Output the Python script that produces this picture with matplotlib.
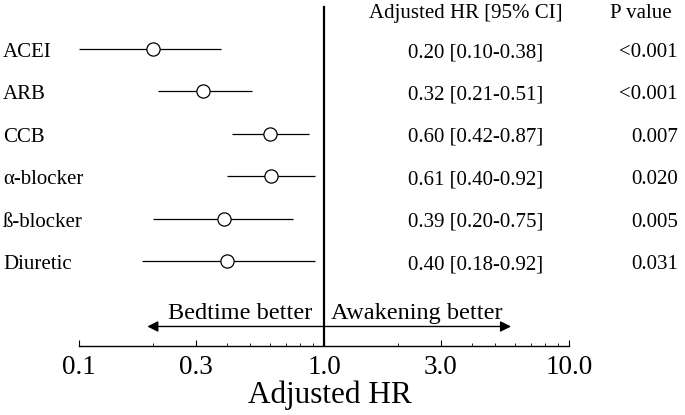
import numpy as np
import matplotlib.pyplot as plt

plt.rcParams['font.family'] = ['Liberation Serif', 'DejaVu Serif']

drugs = ['ACEI', 'ARB', 'CCB', 'α-blocker', 'ß-blocker', 'Diuretic']
hr = [0.20, 0.32, 0.60, 0.61, 0.39, 0.40]
lo = [0.10, 0.21, 0.42, 0.40, 0.20, 0.18]
hi = [0.38, 0.51, 0.87, 0.92, 0.75, 0.92]
pvals = ['<0.001', '<0.001', '0.007', '0.020', '0.005', '0.031']

tick_vals = [0.1, 0.3, 1.0, 3.0, 10.0]
tick_labels = ['0.1', '0.3', '1.0', '3.0', '10.0']
minor_vals = [0.2, 0.4, 0.5, 0.6, 0.7, 0.8, 0.9, 2, 4, 5, 6, 7, 8, 9]

fig = plt.figure(figsize=(6.85, 4.15), dpi=100)
ax = fig.add_axes([79 / 685, 69 / 415, 490 / 685, 346 / 415])
ax.set_xscale('log')
ax.set_xlim(0.1, 10)
ax.set_ylim(7.0, -1.156)

y = np.arange(len(drugs))
ax.hlines(y, lo, hi, color='black', lw=0.9)
ax.plot(hr, y, 'o', ms=9.5, mfc='white', mec='black', mew=0.9, zorder=3)

ax.axvline(1.0, ymin=0, ymax=0.98, color='black', lw=1.6)

# direction arrows
ax.annotate('', xy=(0.19, 6.54), xytext=(1.0, 6.54),
            arrowprops=dict(arrowstyle='-|>', color='black', lw=1.0,
                            mutation_scale=16, shrinkA=0, shrinkB=0))
ax.annotate('', xy=(5.8, 6.54), xytext=(1.0, 6.54),
            arrowprops=dict(arrowstyle='-|>', color='black', lw=1.0,
                            mutation_scale=16, shrinkA=0, shrinkB=0))
ax.text(0.893, 6.37, 'Bedtime better', ha='right', va='baseline', fontsize=17.5)
ax.text(1.068, 6.37, 'Awakening better', ha='left', va='baseline', fontsize=17.5)

for s in ['top', 'left', 'right']:
    ax.spines[s].set_visible(False)
ax.spines['bottom'].set_linewidth(1.0)
ax.set_yticks([])
ax.set_xticks(tick_vals, tick_labels, fontsize=19.5)
ax.set_xticks(minor_vals, minor=True)
ax.set_xticklabels([], minor=True)
ax.tick_params(axis='x', which='major', direction='in', length=4, width=0.8, pad=6.5)
ax.tick_params(axis='x', which='minor', direction='in', length=2.5, width=0.6)
ax.set_xlabel('Adjusted HR', fontsize=22.5, labelpad=0.5)
ax.xaxis.label.set_x(0.512)

# left labels and right-hand columns
for i, d in enumerate(drugs):
    yy = ax.transData.transform((1, i))[1] - 8
    yf = fig.transFigure.inverted().transform((0, yy))[1]
    fig.text(3 / 685, yf, d, ha='left', va='baseline', fontsize=15)
    fig.text(476 / 685, yf, f'{hr[i]:.2f} [{lo[i]:.2f}-{hi[i]:.2f}]',
             ha='center', va='baseline', fontsize=15)
    fig.text(678 / 685, yf, pvals[i], ha='right', va='baseline', fontsize=15)

fig.text(466 / 685, 1 - 18 / 415, 'Adjusted HR [95% CI]', ha='center', va='baseline', fontsize=15)
fig.text(641 / 685, 1 - 18 / 415, 'P value', ha='center', va='baseline', fontsize=15)

fig.savefig('out.png', dpi=100)
